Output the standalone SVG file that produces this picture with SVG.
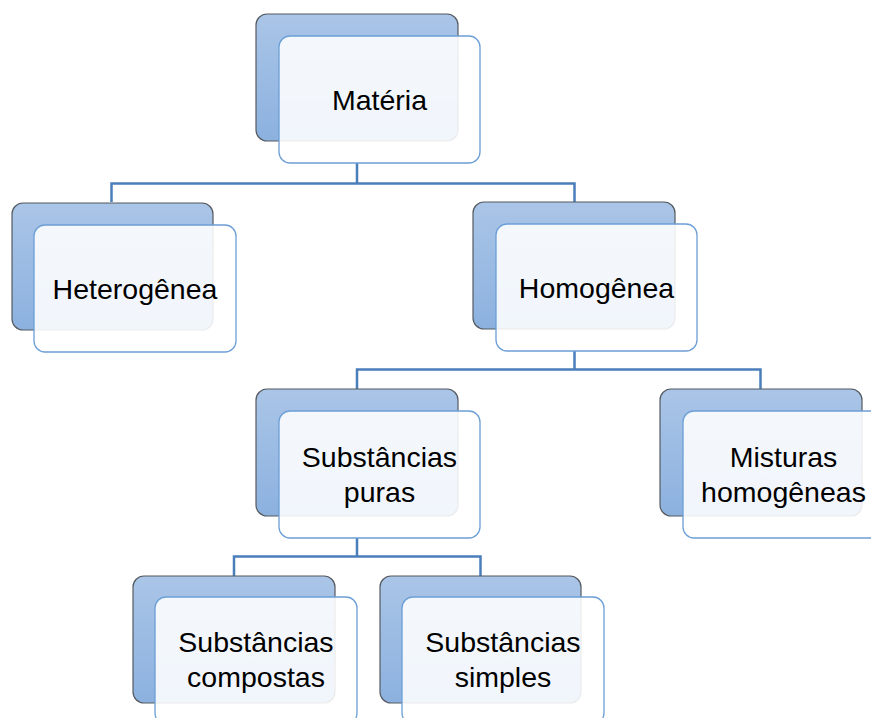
<svg xmlns="http://www.w3.org/2000/svg" width="871" height="718" viewBox="0 0 871 718">
  <defs>
    <linearGradient id="backFill" x1="0" y1="0" x2="0" y2="1">
      <stop offset="0" stop-color="#aac5e7"/>
      <stop offset="1" stop-color="#8cb1df"/>
    </linearGradient>
  </defs>
  <style>
    .back { fill: url(#backFill); stroke: #555a60; stroke-width: 1.2; }
    .front { fill: #ffffff; fill-opacity: 0.88; stroke: #6c9fd6; stroke-width: 1.3; }
    .label { font-family: "Liberation Sans", Arial, sans-serif; font-size: 28.5px; fill: #000000; text-anchor: middle; }
    .link { fill: none; stroke: #4a7ebb; stroke-width: 2.5; }
  </style>

  <rect width="871" height="718" fill="#ffffff"/>

  <!-- connectors -->
  <g id="connectors">
    <path class="link" d="M357,163 V183.5 M111.5,202 V183.5 H574.5 V202"/>
    <path class="link" d="M574.5,351 V369.5 M357,389 V369.5 H760.5 V389"/>
    <path class="link" d="M357,538 V556.5 M234,576 V556.5 H480.5 V576"/>
  </g>

  <!-- nodes -->
  <g id="node-materia">
    <rect class="back" x="256" y="14" width="202" height="127" rx="11"/>
    <rect class="front" x="279" y="36" width="201" height="127" rx="11"/>
    <text class="label" x="379.5" y="110">Matéria</text>
  </g>

  <g id="node-heterogenea">
    <rect class="back" x="12" y="203" width="201" height="127" rx="11"/>
    <rect class="front" x="34" y="225" width="202" height="127" rx="11"/>
    <text class="label" x="135" y="299">Heterogênea</text>
  </g>

  <g id="node-homogenea">
    <rect class="back" x="473" y="202" width="202" height="127" rx="11"/>
    <rect class="front" x="496" y="224" width="201" height="127" rx="11"/>
    <text class="label" x="596.5" y="298">Homogênea</text>
  </g>

  <g id="node-substancias-puras">
    <rect class="back" x="256" y="389" width="202" height="127" rx="11"/>
    <rect class="front" x="279" y="411" width="201" height="127" rx="11"/>
    <text class="label" x="379.5" y="467">Substâncias</text>
    <text class="label" x="379.5" y="502">puras</text>
  </g>

  <g id="node-misturas-homogeneas">
    <rect class="back" x="660" y="389" width="202" height="127" rx="11"/>
    <rect class="front" x="683" y="411" width="201" height="127" rx="11"/>
    <text class="label" x="783.5" y="467">Misturas</text>
    <text class="label" x="783.5" y="502">homogêneas</text>
  </g>

  <g id="node-substancias-compostas">
    <rect class="back" x="133" y="576" width="202" height="127" rx="11"/>
    <rect class="front" x="155" y="597" width="202" height="127" rx="11"/>
    <text class="label" x="256" y="652">Substâncias</text>
    <text class="label" x="256" y="687">compostas</text>
  </g>

  <g id="node-substancias-simples">
    <rect class="back" x="380" y="576" width="201" height="127" rx="11"/>
    <rect class="front" x="402" y="597" width="202" height="127" rx="11"/>
    <text class="label" x="503" y="652">Substâncias</text>
    <text class="label" x="503" y="687">simples</text>
  </g>
</svg>
